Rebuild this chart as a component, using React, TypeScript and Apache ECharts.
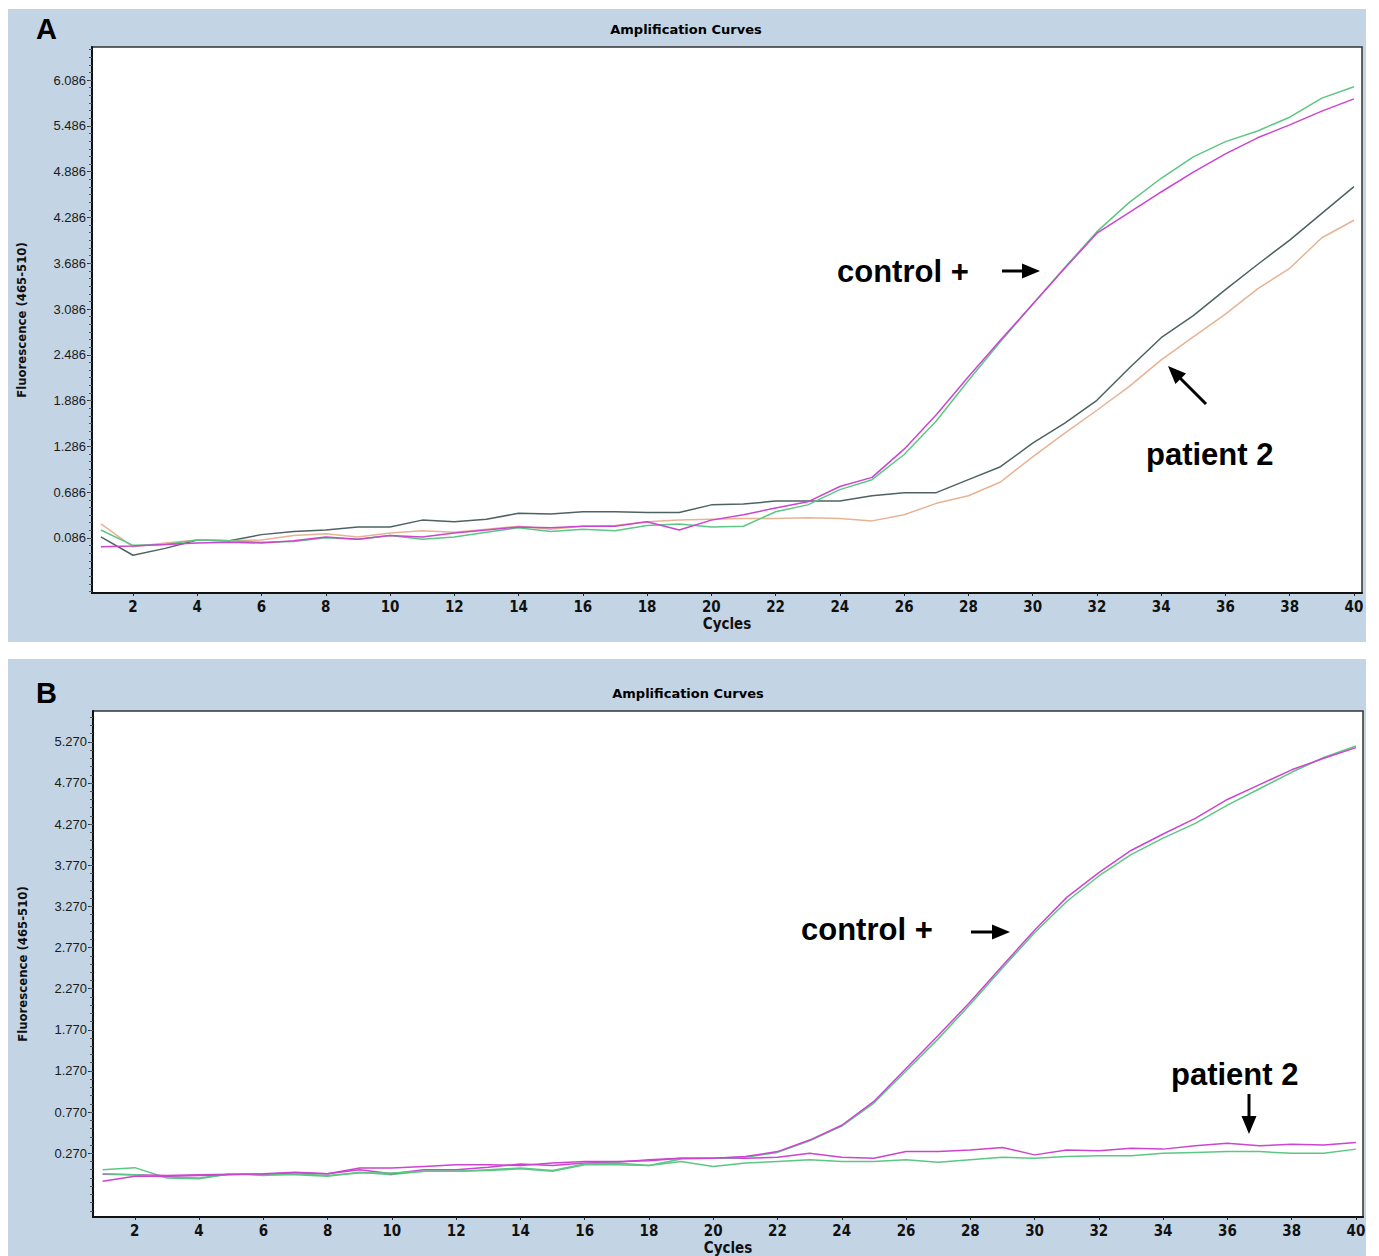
import React, { useEffect, useRef } from "react";
import * as echarts from "echarts";

// ---------- data ----------
const cycles = [1, 2, 3, 4, 5, 6, 7, 8, 9, 10, 11, 12, 13, 14, 15, 16, 17, 18, 19, 20, 21, 22, 23, 24, 25, 26, 27, 28, 29, 30, 31, 32, 33, 34, 35, 36, 37, 38, 39, 40];

// Panel A
const controlGreenA = [0.19, -0.01, 0.0, 0.06, 0.05, 0.03, 0.04, 0.09, 0.07, 0.12, 0.07, 0.1, 0.16, 0.22, 0.17, 0.2, 0.18, 0.25, 0.27, 0.23, 0.24, 0.43, 0.52, 0.72, 0.85, 1.18, 1.62, 2.15, 2.66, 3.15, 3.63, 4.1, 4.48, 4.8, 5.08, 5.28, 5.42, 5.6, 5.85, 6.0];
const controlMagentaA = [-0.03, -0.02, 0.0, 0.02, 0.03, 0.02, 0.05, 0.1, 0.07, 0.12, 0.1, 0.15, 0.19, 0.23, 0.22, 0.24, 0.24, 0.3, 0.19, 0.32, 0.39, 0.48, 0.56, 0.76, 0.88, 1.25, 1.7, 2.2, 2.68, 3.15, 3.62, 4.08, 4.35, 4.62, 4.88, 5.12, 5.33, 5.5, 5.68, 5.84];
const sampleGrayA = [0.1, -0.14, -0.05, 0.06, 0.05, 0.13, 0.17, 0.19, 0.23, 0.23, 0.32, 0.3, 0.33, 0.41, 0.4, 0.43, 0.43, 0.42, 0.42, 0.52, 0.53, 0.57, 0.57, 0.57, 0.64, 0.68, 0.68, 0.85, 1.02, 1.33, 1.59, 1.89, 2.31, 2.71, 3.0, 3.34, 3.67, 3.99, 4.34, 4.69];
const patientTanA = [0.27, -0.03, 0.02, 0.06, 0.05, 0.06, 0.12, 0.14, 0.1, 0.15, 0.18, 0.16, 0.2, 0.24, 0.2, 0.24, 0.25, 0.3, 0.32, 0.33, 0.34, 0.34, 0.35, 0.34, 0.31, 0.39, 0.54, 0.64, 0.82, 1.15, 1.46, 1.76, 2.07, 2.42, 2.72, 3.02, 3.35, 3.62, 4.02, 4.25];

// Panel B
const controlGreenB = [0.02, 0.01, -0.02, -0.03, 0.02, 0.0, 0.02, 0.0, 0.03, 0.03, 0.05, 0.05, 0.07, 0.09, 0.06, 0.14, 0.15, 0.12, 0.2, 0.21, 0.22, 0.28, 0.42, 0.6, 0.88, 1.27, 1.66, 2.08, 2.52, 2.95, 3.33, 3.64, 3.9, 4.1, 4.28, 4.5, 4.7, 4.9, 5.08, 5.22];
const controlMagentaB = [-0.07, -0.01, -0.01, 0.0, 0.01, 0.02, 0.04, 0.02, 0.09, 0.09, 0.11, 0.13, 0.13, 0.12, 0.15, 0.17, 0.17, 0.18, 0.21, 0.21, 0.23, 0.29, 0.43, 0.61, 0.9, 1.3, 1.7, 2.11, 2.55, 2.98, 3.38, 3.68, 3.95, 4.15, 4.34, 4.57, 4.75, 4.93, 5.07, 5.2];
const patientMagentaB = [0.015, 0.01, 0.0, 0.01, 0.015, 0.015, 0.03, 0.02, 0.07, 0.02, 0.07, 0.07, 0.1, 0.14, 0.12, 0.15, 0.16, 0.19, 0.21, 0.21, 0.21, 0.22, 0.27, 0.22, 0.21, 0.29, 0.29, 0.31, 0.34, 0.25, 0.31, 0.3, 0.33, 0.32, 0.36, 0.39, 0.36, 0.38, 0.37, 0.4];
const patientGreenB = [0.07, 0.095, -0.03, -0.04, 0.02, 0.01, 0.01, -0.01, 0.04, 0.01, 0.05, 0.05, 0.06, 0.08, 0.05, 0.13, 0.13, 0.12, 0.17, 0.11, 0.15, 0.17, 0.19, 0.17, 0.17, 0.19, 0.16, 0.19, 0.22, 0.21, 0.23, 0.24, 0.24, 0.27, 0.28, 0.29, 0.29, 0.27, 0.27, 0.32];

// tick labels
const xTickLabels = [2, 4, 6, 8, 10, 12, 14, 16, 18, 20, 22, 24, 26, 28, 30, 32, 34, 36, 38, 40];
const yTickLabelsA = ["0.086", "0.686", "1.286", "1.886", "2.486", "3.086", "3.686", "4.286", "4.886", "5.486", "6.086"];
const yTickLabelsB = ["0.270", "0.770", "1.270", "1.770", "2.270", "2.770", "3.270", "3.770", "4.270", "4.770", "5.270"];

// ---------- styling ----------
const PANEL_BG = "#c3d5e5";
const GREEN = "#5cc784";
const MAGENTA = "#cc44d0";
const GRAY = "#4e6262";
const TAN = "#e7b394";
const NARROW = "'Liberation Sans Narrow', 'DejaVu Sans Condensed', 'Liberation Sans', sans-serif";
const SANS = "'Liberation Sans', Arial, sans-serif";

function minorTicks(min: number, max: number, anchor: number, step: number) {
  const out: number[] = [];
  const start = anchor - Math.floor((anchor - min) / step) * step;
  for (let v = start; v <= max + 1e-9; v += step) out.push(Math.round(v * 1000) / 1000);
  return out;
}

function pairs(ys: number[]) {
  return cycles.map((c, i) => [c, ys[i]]);
}

function xAxisFor(gridIndex: number, min: number, max: number) {
  return {
    type: "value",
    gridIndex,
    min,
    max,
    position: "bottom",
    name: "Cycles",
    nameLocation: "middle",
    nameGap: 23,
    nameTextStyle: { fontFamily: NARROW, fontWeight: "bold", fontSize: 15, color: "#111" },
    axisLine: { show: true, onZero: false, lineStyle: { color: "#111", width: 2 } },
    axisTick: { show: true, length: 3, customValues: xTickLabels, lineStyle: { color: "#222" } },
    axisLabel: {
      show: true,
      customValues: xTickLabels,
      margin: 6,
      fontFamily: NARROW,
      fontWeight: "bold",
      fontSize: 15,
      color: "#111",
    },
    splitLine: { show: false },
  };
}

function yMajor(gridIndex: number, min: number, max: number, labels: string[]) {
  return {
    type: "value",
    gridIndex,
    min,
    max,
    position: "left",
    name: "Fluorescence (465-510)",
    nameLocation: "middle",
    nameGap: 64,
    nameRotate: 90,
    nameTextStyle: { fontFamily: NARROW, fontWeight: "bold", fontSize: 13, color: "#111" },
    axisLine: { show: true, onZero: false, lineStyle: { color: "#111", width: 2 } },
    axisTick: { show: true, length: 5, customValues: labels.map(Number), lineStyle: { color: "#333" } },
    axisLabel: {
      show: true,
      customValues: labels.map(Number),
      formatter: (v: number) => v.toFixed(3),
      margin: 6,
      fontFamily: SANS,
      fontSize: 13,
      color: "#1a1a1a",
    },
    splitLine: { show: false },
  };
}

function yMinor(gridIndex: number, min: number, max: number, anchor: number) {
  return {
    type: "value",
    gridIndex,
    min,
    max,
    position: "left",
    offset: 0,
    axisLine: { show: false },
    axisTick: { show: true, length: 3, customValues: minorTicks(min, max, anchor, 0.1), lineStyle: { color: "#555" } },
    axisLabel: { show: false },
    splitLine: { show: false },
  };
}

function line(name: string, xi: number, yi: number, ys: number[], color: string) {
  return {
    name,
    type: "line",
    xAxisIndex: xi,
    yAxisIndex: yi,
    data: pairs(ys),
    showSymbol: false,
    symbol: "none",
    lineStyle: { color, width: 1.5 },
    silent: true,
    z: 3,
  };
}

function arrowHead(tip: [number, number], dir: [number, number], len: number, half: number) {
  const [tx, ty] = tip;
  const [dx, dy] = dir;
  const n = Math.hypot(dx, dy);
  const ux = dx / n, uy = dy / n;
  const bx = tx - ux * len, by = ty - uy * len;
  const px = -uy, py = ux;
  return [
    [tx, ty],
    [bx + px * half, by + py * half],
    [bx - px * half, by - py * half],
  ];
}

function arrow(tail: [number, number], tip: [number, number]) {
  const dir: [number, number] = [tip[0] - tail[0], tip[1] - tail[1]];
  const n = Math.hypot(dir[0], dir[1]);
  const shaftEnd: [number, number] = [tip[0] - (dir[0] / n) * 12, tip[1] - (dir[1] / n) * 12];
  return [
    {
      type: "line",
      shape: { x1: tail[0], y1: tail[1], x2: shaftEnd[0], y2: shaftEnd[1] },
      style: { stroke: "#000", lineWidth: 3 },
      z: 100,
    },
    {
      type: "polygon",
      shape: { points: arrowHead(tip, dir, 18, 7.5) },
      style: { fill: "#000" },
      z: 100,
    },
  ];
}

function textEl(text: string, x: number, y: number, font: string, size: number, weight: string, align = "left") {
  return {
    type: "text",
    x,
    y,
    z: 100,
    style: {
      text,
      fontFamily: font,
      fontSize: size,
      fontWeight: weight,
      fill: "#000",
      textAlign: align,
      textVerticalAlign: "middle",
    },
  };
}

function buildOption() {
  const aMin = -0.635, aMax = 6.52;
  const bMin = -0.505, bMax = 5.645;
  return {
    animation: false,
    backgroundColor: "#ffffff",
    grid: [
      { left: 92, top: 47, width: 1270, height: 546, show: true, backgroundColor: "#ffffff", borderColor: "#333", borderWidth: 1.5 },
      { left: 93, top: 711, width: 1270, height: 508, show: true, backgroundColor: "#ffffff", borderColor: "#333", borderWidth: 1.5 },
    ],
    xAxis: [xAxisFor(0, 0.724, 40.25), xAxisFor(1, 0.7, 40.22)],
    yAxis: [
      yMajor(0, aMin, aMax, yTickLabelsA),
      yMinor(0, aMin, aMax, 0.086),
      yMajor(1, bMin, bMax, yTickLabelsB),
      yMinor(1, bMin, bMax, 0.27),
    ],
    series: [
      line("sample A", 0, 0, sampleGrayA, GRAY),
      line("patient 2 A", 0, 0, patientTanA, TAN),
      line("control + green A", 0, 0, controlGreenA, GREEN),
      line("control + magenta A", 0, 0, controlMagentaA, MAGENTA),
      line("patient 2 green B", 1, 2, patientGreenB, GREEN),
      line("patient 2 magenta B", 1, 2, patientMagentaB, MAGENTA),
      line("control + green B", 1, 2, controlGreenB, GREEN),
      line("control + magenta B", 1, 2, controlMagentaB, MAGENTA),
    ],
    graphic: [
      { type: "rect", shape: { x: 8, y: 9, width: 1358, height: 633 }, style: { fill: PANEL_BG }, z: -100 },
      { type: "rect", shape: { x: 8, y: 659, width: 1358, height: 597 }, style: { fill: PANEL_BG }, z: -100 },
      textEl("A", 36, 29, SANS, 29, "bold"),
      textEl("B", 36, 693, SANS, 29, "bold"),
      textEl("Amplification Curves", 686, 29, "'DejaVu Sans', sans-serif", 13, "bold", "center"),
      textEl("Amplification Curves", 688, 693, "'DejaVu Sans', sans-serif", 13, "bold", "center"),
      textEl("control +", 837, 271, SANS, 31, "bold"),
      textEl("patient 2", 1146, 454, SANS, 31, "bold"),
      textEl("control +", 801, 929, SANS, 31, "bold"),
      textEl("patient 2", 1171, 1074, SANS, 31, "bold"),
      ...arrow([1002, 271], [1040, 271]),
      ...arrow([1206, 404], [1168, 366]),
      ...arrow([971, 932], [1010, 932]),
      ...arrow([1249, 1094], [1249, 1134]),
    ],
  };
}

export default function App() {
  const ref = useRef<HTMLDivElement>(null);
  useEffect(() => {
    document.body.style.margin = "0";
    if (!ref.current) return;
    const chart = echarts.init(ref.current, undefined, { renderer: "svg" });
    chart.setOption(buildOption() as any);
    return () => chart.dispose();
  }, []);
  return <div ref={ref} style={{ width: 1379, height: 1256 }} />;
}
